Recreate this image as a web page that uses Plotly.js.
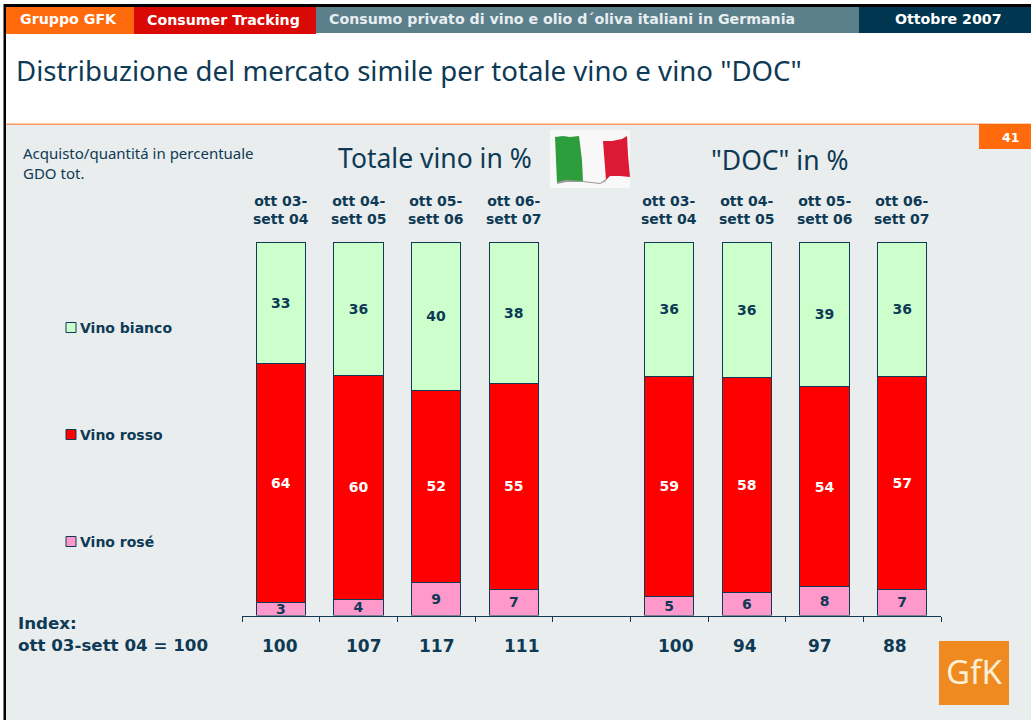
<!DOCTYPE html>
<html>
<head>
<meta charset="utf-8">
<script src="https://cdn.plot.ly/plotly-3.0.1.min.js"></script>
<style>html,body{margin:0;padding:0;background:#fff;overflow:hidden}</style>
</head>
<body>
<div id="chart" style="width:1031px;height:720px"></div>
<script>
// ---- data ----
var periods = ["ott 03-<br>sett 04","ott 04-<br>sett 05","ott 05-<br>sett 06","ott 06-<br>sett 07","",
               "ott 03-<br>sett 04","ott 04-<br>sett 05","ott 05-<br>sett 06","ott 06-<br>sett 07"];
var slots = [0,1,2,3,4,5,6,7,8];
var roseValues   = [3.5,4.3,8.8,7.0,null,5.1,6.1,7.8,7.0];
var rossoValues  = [63.9,60.0,51.5,55.2,null,58.9,57.6,53.4,57.1];
var biancoValues = [32.6,35.7,39.7,37.8,null,36.0,36.3,38.8,35.9];
var roseLabels   = ["3","4","9","7","","5","6","8","7"];
var rossoLabels  = ["64","60","52","55","","59","58","54","57"];
var biancoLabels = ["33","36","40","38","","36","36","39","36"];
var indexLabels  = ["100","107","117","111","100","94","97","88"];
var seriesNames  = ["Vino bianco","Vino rosso","Vino rosé"];

// ---- layout helpers (page pixels to paper fractions) ----
var W = 1031, H = 720;
var NAVY = "#0E3A55";
var FONT = "DejaVu Sans", FONT2 = "Noto Sans";
function px(x){return x/W;}
function py(y){return 1-y/H;}
function rect(x0,y0,x1,y1,fill,line){
  return {type:"rect",xref:"paper",yref:"paper",x0:px(x0),x1:px(x1),y0:py(y0),y1:py(y1),
          fillcolor:fill,line:line?{color:line,width:1}:{width:0},layer:"below"};
}
function poly(points,fill){
  var d = points.map(function(p,i){return (i?"L":"M")+px(p[0])+","+py(p[1]);}).join(" ")+" Z";
  return {type:"path",xref:"paper",yref:"paper",path:d,fillcolor:fill,line:{width:0},layer:"below"};
}
function label(x,y,text,size,opt){
  opt = opt||{};
  return {xref:"paper",yref:"paper",x:px(x),y:py(y),text:text,showarrow:false,
          xanchor:opt.anchor||"left",yanchor:"middle",align:opt.align||"left",borderpad:0,
          font:{family:opt.family||FONT,size:size,color:opt.color||NAVY,weight:opt.bold?700:400}};
}

var shapes = [
  rect(0,0,W,H,"#ffffff"),
  rect(3.5,4,W,H,"#000000"),
  rect(6,7,W,124,"#ffffff"),
  rect(6,124,W,H,"#E9EDEE"),
  rect(6,123.5,W,125,"#FF9A5E"),
  rect(6,7,134,34,"#FF6A0D"),
  rect(134,7,316,34,"#D90A06"),
  rect(316,7,859,33,"#5B7F8B"),
  rect(859,7,W,33,"#00364F"),
  rect(979,124,W,149,"#FF6A0D"),
  // flag
  rect(550,130,630,188,"#F8F8F8"),
  poly([[555,137],[563,136],[570,137],[579,136],[582,160],[583,182],[576,181],[566,181],[557,183]],"#2E9E3C"),
  poly([[603,141],[612,141],[622,139],[627,136],[628,155],[630,177],[620,176],[610,176],[606,180]],"#DC1A36"),
  poly([[557,182],[566,180],[583,181],[600,183],[606,179],[606,181],[600,184],[583,182],[566,182],[557,184]],"#9A9A9A"),
  // logo
  rect(939,641,1009,705,"#EE8A1F"),
  // legend swatches
  rect(66,322.5,76,332.5,"#CCFFCC",NAVY),
  rect(66,429.5,76,439.5,"#FF0000",NAVY),
  rect(66,536.5,76,546.5,"#FF99CC",NAVY)
];

var annotations = [
  label(19,19,"Gruppo GFK",14.2,{color:"#fff",bold:true}),
  label(146,20,"Consumer Tracking",14.2,{color:"#fff",bold:true}),
  label(328,18.5,"Consumo privato di vino e olio d´oliva italiani in Germania",14.2,{color:"#E8EEF0",bold:true}),
  label(948.5,19,"Ottobre 2007",14.2,{color:"#fff",bold:true,anchor:"center"}),
  label(15,70,"Distribuzione del mercato simile per totale vino e vino \"DOC\"",27.6,{family:FONT2}),
  label(1010,137,"41",12.5,{color:"#fff",bold:true,anchor:"center"}),
  label(22,163,"Acquisto/quantitá in percentuale<br>GDO tot.",15,{family:FONT2}),
  label(434.5,158,"Totale vino in %",26.5,{anchor:"center",family:FONT2}),
  label(779.5,160,"\"DOC\" in %",26.5,{anchor:"center",family:FONT2}),
  label(17,634,"Index:<br>ott 03-sett 04 = 100",16.7,{bold:true}),
  label(974,671,"GfK",33,{color:"#FBEFD6",anchor:"center",family:FONT2})
];
[328,435,542].forEach(function(y,i){
  annotations.push(label(79,y,seriesNames[i],14,{bold:true}));
});
slots.forEach(function(s){
  if(periods[s]) annotations.push({xref:"x",yref:"paper",x:s,y:py(210),text:periods[s],showarrow:false,
    xanchor:"center",yanchor:"middle",align:"center",borderpad:0,
    font:{family:FONT,size:14,color:NAVY,weight:700}});
});
var indexX = [280,364,437,522,676,745,820,895];
indexLabels.forEach(function(t,i){
  annotations.push(label(indexX[i],646,t,17,{bold:true,anchor:"center"}));
});

function barTrace(name,values,labels,fill,textColor){
  return {type:"bar",name:name,x:slots,y:values,text:labels,textposition:"inside",
          insidetextanchor:"middle",textangle:0,constraintext:"none",cliponaxis:false,
          insidetextfont:{family:FONT,size:14,color:textColor,weight:700},
          marker:{color:fill,line:{color:NAVY,width:1}},width:0.635,hoverinfo:"name+y"};
}
var data = [
  barTrace(seriesNames[2],roseValues,roseLabels,"#FF99CC",NAVY),
  barTrace(seriesNames[1],rossoValues,rossoLabels,"#FF0000","#ffffff"),
  barTrace(seriesNames[0],biancoValues,biancoLabels,"#CCFFCC",NAVY)
];
var layout = {
  width:W,height:H,autosize:false,margin:{l:0,r:0,t:0,b:0,pad:0},
  paper_bgcolor:"#ffffff",plot_bgcolor:"rgba(0,0,0,0)",showlegend:false,barmode:"stack",
  xaxis:{domain:[px(242),px(941)],range:[-0.5,8.5],tickmode:"array",
         tickvals:[-0.5,0.5,1.5,2.5,3.5,4.5,5.5,6.5,7.5,8.5],ticktext:["","","","","","","","","",""],
         ticks:"outside",ticklen:5,tickcolor:NAVY,tickwidth:1,showline:true,linecolor:NAVY,linewidth:1,
         showgrid:false,zeroline:false,fixedrange:true},
  yaxis:{domain:[py(615.5),py(242)],range:[0,100],visible:false,showgrid:false,zeroline:false,fixedrange:true},
  shapes:shapes,annotations:annotations,font:{family:FONT,color:NAVY}
};
Plotly.newPlot("chart",data,layout,{displayModeBar:false,staticPlot:true});
</script>
</body>
</html>
